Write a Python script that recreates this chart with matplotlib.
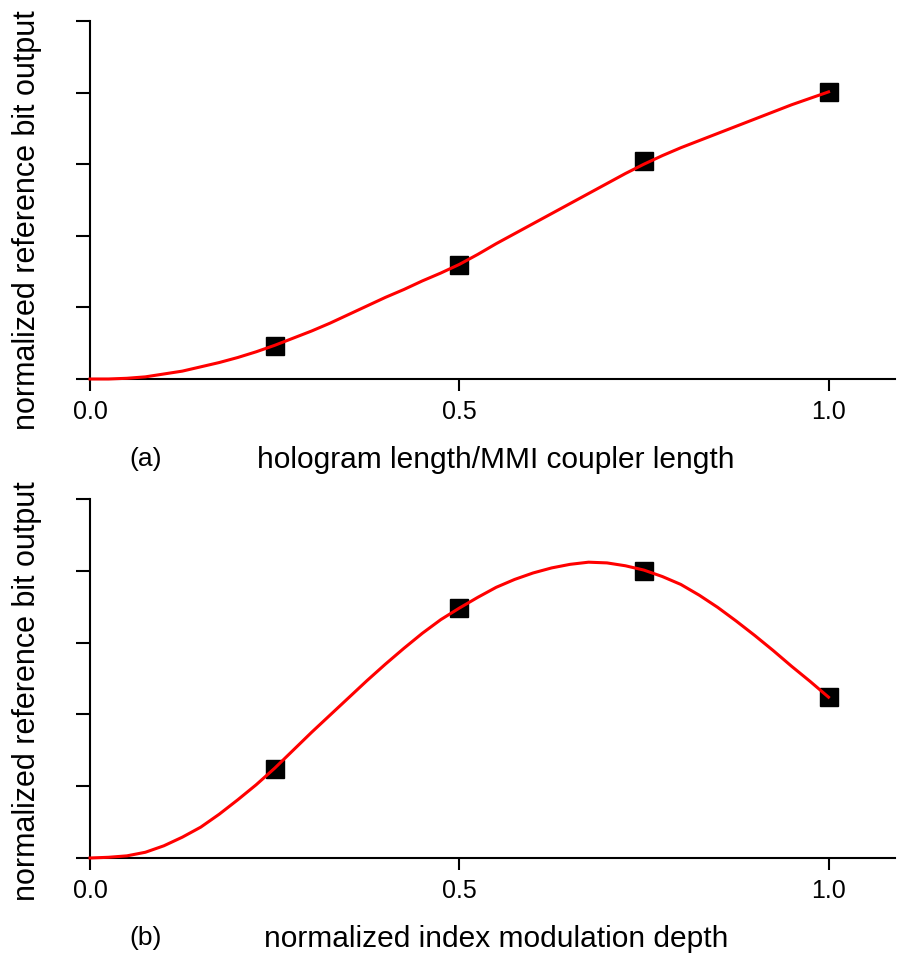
import matplotlib
matplotlib.use("Agg")
import matplotlib.pyplot as plt

plt.rcParams['font.family'] = ['Liberation Sans', 'DejaVu Sans']

# measured points
x_pts = [0.25, 0.5, 0.75, 1.0]
a_pts = [0.46, 1.59, 3.04, 4.01]
b_pts = [1.24, 3.48, 4.00, 2.24]

# red fitted curves, every 0.025
x_curve = [0.0, 0.025, 0.05, 0.075, 0.1, 0.125, 0.15, 0.175, 0.2, 0.225,
           0.25, 0.275, 0.3, 0.325, 0.35, 0.375, 0.4, 0.425, 0.45, 0.475,
           0.5, 0.525, 0.55, 0.575, 0.6, 0.625, 0.65, 0.675, 0.7, 0.725,
           0.75, 0.775, 0.8, 0.825, 0.85, 0.875, 0.9, 0.925, 0.95, 0.975, 1.0]
a_curve = [0.0, 0.0, 0.01, 0.03, 0.07, 0.11, 0.17, 0.23, 0.30, 0.38,
           0.47, 0.57, 0.67, 0.78, 0.90, 1.02, 1.14, 1.25, 1.37, 1.48,
           1.60, 1.74, 1.89, 2.03, 2.17, 2.31, 2.45, 2.59, 2.73, 2.87,
           3.00, 3.12, 3.23, 3.33, 3.43, 3.53, 3.63, 3.73, 3.83, 3.92, 4.01]
b_curve = [0.0, 0.01, 0.03, 0.08, 0.17, 0.29, 0.43, 0.61, 0.81, 1.02,
           1.25, 1.50, 1.75, 1.99, 2.23, 2.47, 2.70, 2.92, 3.13, 3.32,
           3.48, 3.63, 3.77, 3.88, 3.97, 4.04, 4.09, 4.12, 4.11, 4.07,
           4.01, 3.92, 3.81, 3.66, 3.49, 3.30, 3.10, 2.89, 2.67, 2.46, 2.24]

xticks = [0.0, 0.5, 1.0]
xticklabels = ["0.0", "0.5", "1.0"]
yticks = [0, 1, 2, 3, 4, 5]

panels = [
    ("(a)", "hologram length/MMI coupler length", a_pts, a_curve),
    ("(b)", "normalized index modulation depth", b_pts, b_curve),
]

W, H = 897, 954
fig = plt.figure(figsize=(W / 100, H / 100), dpi=100)

# pixel geometry of the two axes (left, top, right, bottom) + y-label centre
boxes = [(90, 22, 895, 380, 220), (90, 500, 895, 859, 691)]

for (tag, xlabel, pts, curve), (l, t, r, b, ylab_y) in zip(panels, boxes):
    ax = fig.add_axes([l / W, 1 - b / H, (r - l) / W, (b - t) / H])
    ax.plot(x_pts, pts, 's', color='black', markersize=12.5, zorder=2, clip_on=False)
    ax.plot(x_curve, curve, '-', color='#ff0000', linewidth=2.2, zorder=3,
            clip_on=False, solid_joinstyle='round')
    ax.set_xlim(0, 1.09)
    ax.set_ylim(0, 5)
    ax.spines['top'].set_visible(False)
    ax.spines['right'].set_visible(False)
    for s in ('left', 'bottom'):
        ax.spines[s].set_linewidth(1.5)
    ax.set_xticks(xticks)
    ax.set_xticklabels(xticklabels)
    ax.set_yticks(yticks)
    ax.set_yticklabels([])
    ax.tick_params(axis='y', direction='out', length=10, width=1.5)
    ax.tick_params(axis='x', direction='out', length=8.5, width=1.5, labelsize=18, pad=6)

    fig.text(27 / W, 1 - ylab_y / H, "normalized reference bit output",
             rotation=90, ha='center', va='center', fontsize=22)
    fig.text(496 / W, 1 - (b + 80) / H, xlabel, ha='center', va='center', fontsize=21.5)
    fig.text(146 / W, 1 - (b + 79) / H, tag, ha='center', va='center', fontsize=19)

fig.savefig("out.png", dpi=100)
